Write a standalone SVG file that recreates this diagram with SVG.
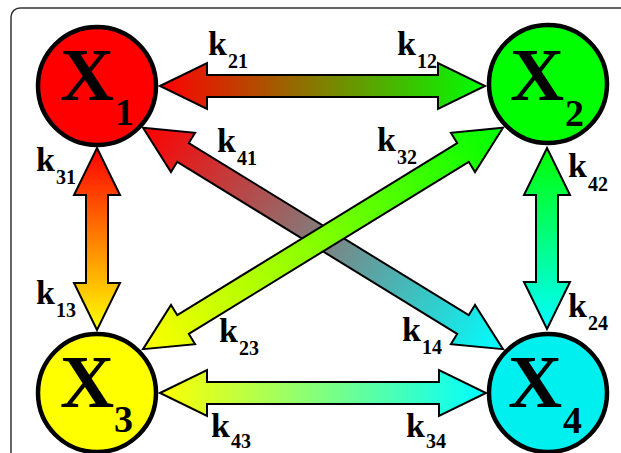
<svg xmlns="http://www.w3.org/2000/svg" width="621" height="453" viewBox="0 0 621 453">
<defs>
<style>
.frame{fill:none;stroke:#333;stroke-width:1.5}
.arr{stroke:#000;stroke-width:2;stroke-linejoin:miter}
.node{stroke:#000;stroke-width:4.5}
.X{font-family:"Liberation Serif","Times New Roman",serif;font-weight:bold;font-size:75px;fill:#000}
.n{font-size:38px}
.k{font-family:"Liberation Serif","Times New Roman",serif;font-weight:bold;font-size:34px;fill:#000}
.s{font-size:20px}
</style>
<linearGradient id="gRG" x1="0" y1="0" x2="1" y2="0"><stop offset="0" stop-color="#ff0000"/><stop offset="1" stop-color="#00ff00"/></linearGradient>
<linearGradient id="gYC" x1="0" y1="0" x2="1" y2="0"><stop offset="0" stop-color="#ffff00"/><stop offset="1" stop-color="#00ffff"/></linearGradient>
<linearGradient id="gRY" x1="0" y1="0" x2="1" y2="0"><stop offset="0" stop-color="#ff0000"/><stop offset="1" stop-color="#ffff00"/></linearGradient>
<linearGradient id="gGC" x1="0" y1="0" x2="1" y2="0"><stop offset="0" stop-color="#00ff00"/><stop offset="1" stop-color="#00ffff"/></linearGradient>
<linearGradient id="gRC" x1="0" y1="0" x2="1" y2="0"><stop offset="0" stop-color="#ff0000"/><stop offset="1" stop-color="#00ffff"/></linearGradient>
<linearGradient id="gGY" x1="0" y1="0" x2="1" y2="0"><stop offset="0" stop-color="#00ff00"/><stop offset="1" stop-color="#ffff00"/></linearGradient>
</defs>
<rect width="621" height="453" fill="#fff"/>
<rect class="frame" x="11" y="8" width="660" height="500" rx="9"/>
<g id="connectors">
<path class="arr" fill="url(#gRG)" transform="translate(160,86)" d="M0,0 47,-23 47,-11 278,-11 278,-23 325,0 278,23 278,11 47,11 47,23Z"/>
<path class="arr" fill="url(#gYC)" transform="translate(160,393)" d="M0,0 47,-23 47,-11 279,-11 279,-23 326,0 279,23 279,11 47,11 47,23Z"/>
<path class="arr" fill="url(#gRY)" transform="translate(97,148) rotate(90)" d="M0,0 47,-23 47,-11 135,-11 135,-23 182,0 135,23 135,11 47,11 47,23Z"/>
<path class="arr" fill="url(#gGC)" transform="translate(547,148) rotate(90)" d="M0,0 47,-23 47,-11 134,-11 134,-23 181,0 134,23 134,11 47,11 47,23Z"/>
<path class="arr" fill="url(#gRC)" transform="translate(143,127.8) rotate(31.59)" d="M0,0 47,-23 47,-11 375.6,-11 375.6,-23 422.6,0 375.6,23 375.6,11 47,11 47,23Z"/>
<path class="arr" fill="url(#gGY)" transform="translate(503,127.8) rotate(148.41)" d="M0,0 47,-23 47,-11 375.6,-11 375.6,-23 422.6,0 375.6,23 375.6,11 47,11 47,23Z"/>
<text class="k" x="208" y="55">k<tspan class="s" dx="1" dy="13">21</tspan></text>
<text class="k" x="397" y="55">k<tspan class="s" dx="1" dy="13">12</tspan></text>
<text class="k" x="217" y="152">k<tspan class="s" dx="1" dy="13">41</tspan></text>
<text class="k" x="377" y="151">k<tspan class="s" dx="1" dy="13">32</tspan></text>
<text class="k" x="36" y="171">k<tspan class="s" dx="1" dy="13">31</tspan></text>
<text class="k" x="568" y="177">k<tspan class="s" dx="1" dy="14">42</tspan></text>
<text class="k" x="36" y="304">k<tspan class="s" dx="1" dy="13">13</tspan></text>
<text class="k" x="219" y="342">k<tspan class="s" dx="1" dy="13">23</tspan></text>
<text class="k" x="211" y="437">k<tspan class="s" dx="1" dy="11">43</tspan></text>
<text class="k" x="402" y="341">k<tspan class="s" dx="1" dy="13">14</tspan></text>
<text class="k" x="568" y="317">k<tspan class="s" dx="1" dy="13">24</tspan></text>
<text class="k" x="406" y="437">k<tspan class="s" dx="1" dy="11">34</tspan></text>
</g>
<g id="X1">
<circle class="node" cx="97" cy="86" r="59" fill="#ff0000"/>
<text class="X" x="60" y="100">X<tspan class="n" x="115" y="125">1</tspan></text>
</g>
<g id="X2">
<circle class="node" cx="548" cy="84" r="59" fill="#00ff00"/>
<text class="X" x="510" y="100">X<tspan class="n" x="565" y="126">2</tspan></text>
</g>
<g id="X3">
<circle class="node" cx="97" cy="393" r="59" fill="#ffff00"/>
<text class="X" x="60" y="407">X<tspan class="n" x="114" y="432">3</tspan></text>
</g>
<g id="X4">
<circle class="node" cx="548" cy="393" r="59" fill="#00f0f0"/>
<text class="X" x="508" y="407">X<tspan class="n" x="563" y="433">4</tspan></text>
</g>
</svg>
